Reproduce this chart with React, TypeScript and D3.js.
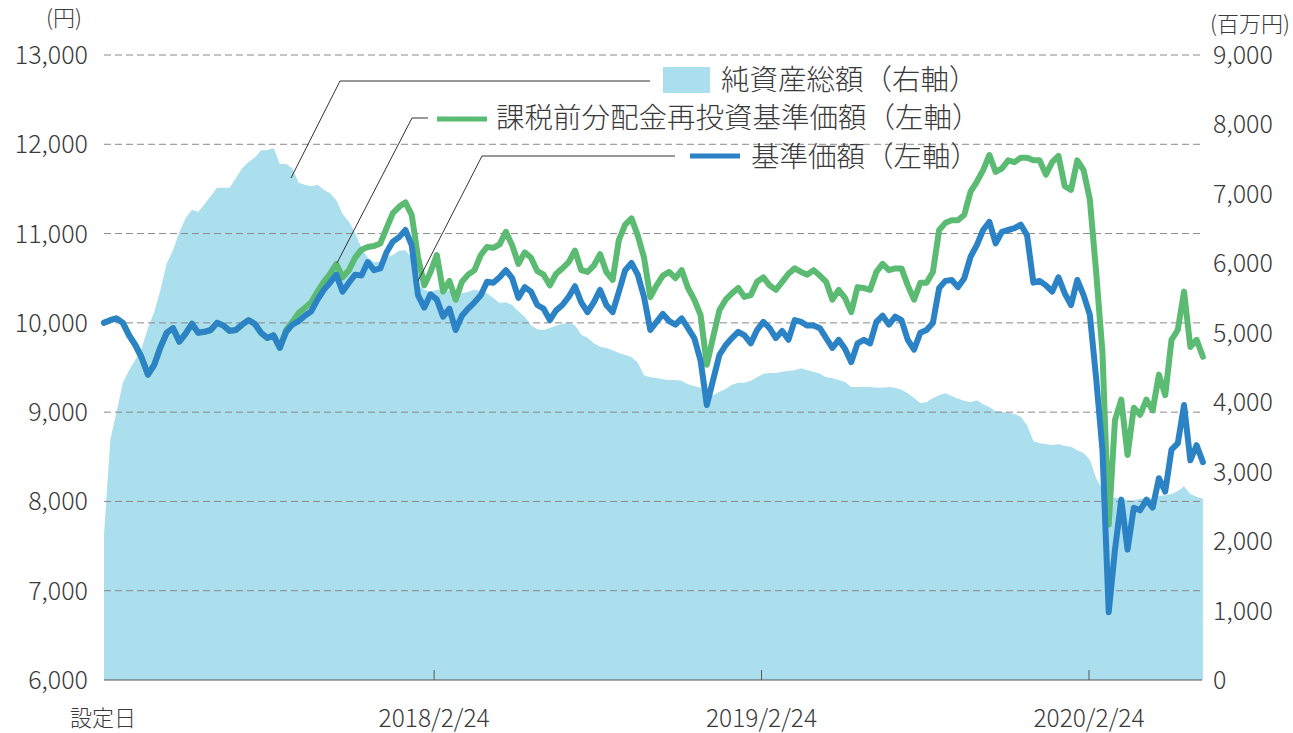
import * as d3 from "d3";

// 週次データ（設定日 2017/2/21 〜 2020/6/29）
const startDate = new Date(2017, 1, 21);
const endDate = new Date(2020, 5, 29);
const dates = d3.range(176).map((i) => d3.timeDay.offset(startDate, i * 7));

// 基準価額（左軸, 円）
const navValues = [
  10000, 10030, 10050, 10000, 9860, 9750, 9610, 9420, 9530, 9730, 9890, 9940, 9790, 9880, 9990, 9890, 9900, 9920, 10000, 9970,
  9910, 9920, 9980, 10030, 9990, 9890, 9830, 9860, 9720, 9900,
  9980, 10020, 10080, 10130, 10260, 10370, 10450, 10540, 10350, 10450, 10540, 10530, 10680, 10590, 10610, 10790, 10910, 10960, 11040, 10870,
  10310, 10170, 10320, 10260, 10070, 10160, 9920, 10080, 10160, 10230, 10310, 10460, 10450, 10510, 10590, 10500, 10280, 10400, 10350, 10200,
  10160, 10030, 10140, 10200, 10290, 10410, 10230, 10120, 10230, 10370, 10200, 10120, 10350, 10590, 10670, 10540, 10290, 9920, 10010, 10100,
  10020, 9980, 10050, 9940, 9830, 9580, 9080, 9360, 9640, 9750, 9830, 9900, 9860, 9770, 9920, 10010, 9940, 9830, 9910, 9810,
  10030, 10010, 9970, 9970, 9940, 9830, 9720, 9810, 9710, 9560, 9770, 9810, 9770, 10010, 10080, 9980, 10070, 10030, 9810, 9700,
  9890, 9920, 10000, 10390, 10470, 10480, 10400, 10500, 10740, 10870, 11040, 11130, 10890, 11020, 11040, 11060, 11100, 10980, 10450, 10470,
  10420, 10350, 10510, 10330, 10200, 10480, 10310, 10090, 9380, 8580, 6760, 7460, 8020, 7460, 7930, 7900, 8020, 7930, 8260, 8110,
  8580, 8650, 9080, 8460, 8630, 8440,
];

// 課税前分配金再投資基準価額（左軸, 円）
const reinvestValues = [
  10000, 10030, 10050, 10000, 9860, 9750, 9610, 9420, 9530, 9730, 9890, 9940, 9790, 9880, 9990, 9890, 9900, 9920, 10000, 9970,
  9910, 9920, 9980, 10030, 9990, 9890, 9830, 9860, 9720, 9920,
  10010, 10110, 10170, 10230, 10350, 10460, 10550, 10660, 10510, 10590, 10730, 10820, 10850, 10860, 10890, 11060, 11230, 11300, 11350, 11210,
  10740, 10420, 10570, 10760, 10350, 10470, 10260, 10460, 10540, 10590, 10760, 10850, 10840, 10880, 11020, 10870, 10660, 10790, 10730, 10580,
  10540, 10420, 10550, 10610, 10680, 10810, 10590, 10570, 10640, 10770, 10570, 10480, 10930, 11100, 11170, 10980, 10730, 10290, 10420, 10530,
  10570, 10500, 10590, 10390, 10260, 10090, 9530, 9840, 10140, 10260, 10330, 10390, 10290, 10310, 10460, 10510, 10420, 10370, 10460, 10550,
  10610, 10570, 10540, 10590, 10530, 10460, 10260, 10370, 10280, 10120, 10400, 10390, 10370, 10570, 10660, 10590, 10610, 10610, 10420, 10260,
  10450, 10450, 10570, 11040, 11120, 11150, 11150, 11210, 11470, 11580, 11710, 11880, 11690, 11730, 11820, 11800, 11850, 11850, 11820, 11820,
  11660, 11800, 11870, 11530, 11490, 11820, 11710, 11380, 10570, 9670, 7740, 8910, 9140, 8520, 9050, 8970, 9140, 9020, 9420, 9190,
  9810, 9920, 10350, 9730, 9810, 9620,
];

// 純資産総額（右軸, 百万円）
const netAssets = [
  2090, 3460, 3860, 4280, 4460, 4610, 4780, 5070, 5300, 5620, 6000, 6190, 6450, 6650, 6770, 6740, 6850, 6970, 7090, 7090,
  7090, 7230, 7370, 7460, 7520, 7630, 7630, 7660, 7430, 7430,
  7370, 7160, 7130, 7110, 7130, 7060, 7010, 6910, 6710, 6600, 6440, 6220, 6080, 6020, 6020, 6080, 6120, 6180, 6190, 6080,
  5690, 5620, 5590, 5620, 5620, 5600, 5570, 5570, 5590, 5620, 5600, 5570, 5500, 5430, 5440, 5400, 5310, 5230, 5110, 5050,
  5040, 5070, 5100, 5130, 5140, 5110, 4970, 4930, 4850, 4800, 4780, 4750, 4710, 4680, 4650, 4570, 4390, 4360, 4350, 4330,
  4320, 4320, 4310, 4260, 4230, 4210, 4150, 4100, 4150, 4190, 4250, 4280, 4280, 4310, 4360, 4410, 4420, 4420, 4440, 4450,
  4460, 4490, 4460, 4440, 4410, 4360, 4350, 4320, 4290, 4220, 4220, 4220, 4220, 4210, 4210, 4220, 4210, 4180, 4130, 4060,
  3990, 4000, 4060, 4100, 4130, 4090, 4050, 4020, 4000, 4030, 3970, 3930, 3870, 3860, 3850, 3830, 3790, 3670, 3440, 3410,
  3400, 3380, 3400, 3370, 3360, 3310, 3270, 3170, 2910, 2740, 2650, 2620, 2610, 2590, 2590, 2610, 2620, 2620, 2650, 2660,
  2680, 2720, 2790, 2680, 2640, 2610,
];

const leftTicks = [6000, 7000, 8000, 9000, 10000, 11000, 12000, 13000];
const rightTicks = [0, 1000, 2000, 3000, 4000, 5000, 6000, 7000, 8000, 9000];
const xTickDates = [new Date(2018, 1, 24), new Date(2019, 1, 24), new Date(2020, 1, 24)];
const xTickLabels = ["2018/2/24", "2019/2/24", "2020/2/24"];

const legendLabels = ["純資産総額（右軸）", "課税前分配金再投資基準価額（左軸）", "基準価額（左軸）"];

const AREA_COLOR = "#acdfee";
const GREEN = "#5cbb72";
const BLUE = "#2b83c6";
const TEXT = "#3a3a3a";
const FONT = "'Noto Sans CJK JP', 'Noto Sans', sans-serif";

export default function App() {
  const width = 1293;
  const height = 733;
  const left = 104, right = 1202, top = 55, bottom = 680;

  const x = d3.scaleTime().domain([startDate, endDate]).range([left, right]);
  const yL = d3.scaleLinear().domain([6000, 13000]).range([bottom, top]);
  const yR = d3.scaleLinear().domain([0, 9000]).range([bottom, top]);

  const areaPath = d3
    .area<number>()
    .x((_, i) => x(dates[i]))
    .y0(yR(0))
    .y1((d) => yR(d))(netAssets);

  const lineL = d3
    .line<number>()
    .x((_, i) => x(dates[i]))
    .y((d) => yL(d));

  const fmt = d3.format(",");

  return (
    <svg
      width={width}
      height={height}
      style={{ position: "absolute", left: 0, top: 0, background: "#fff" }}
      fontFamily={FONT}
      fontWeight={300}
    >
      <path d={areaPath || ""} fill={AREA_COLOR} />

      {/* grid */}
      {leftTicks.slice(1).map((t) => (
        <line key={t} x1={left} x2={right} y1={yL(t)} y2={yL(t)} stroke="#8a8a8a" strokeWidth={1} strokeDasharray="7,4" />
      ))}

      {/* baseline + ticks */}
      <line x1={left} x2={right} y1={bottom} y2={bottom} stroke="#555" strokeWidth={1.2} />
      {xTickDates.map((d, i) => (
        <line key={i} x1={x(d)} x2={x(d)} y1={bottom} y2={bottom - 10} stroke="#555" strokeWidth={1} />
      ))}

      <path d={lineL(reinvestValues) || ""} fill="none" stroke={GREEN} strokeWidth={6} strokeLinejoin="round" strokeLinecap="round" />
      <path d={lineL(navValues) || ""} fill="none" stroke={BLUE} strokeWidth={6} strokeLinejoin="round" strokeLinecap="round" />

      {/* left axis */}
      {leftTicks.map((t) => (
        <text key={t} x={88} y={yL(t)} dy="0.36em" textAnchor="end" fontSize={25} fill={TEXT}>
          {fmt(t)}
        </text>
      ))}
      <text x={64} y={18} dy="0.36em" textAnchor="middle" fontSize={22} fill={TEXT}>(円)</text>

      {/* right axis */}
      {rightTicks.map((t) => (
        <text key={t} x={1213} y={yR(t)} dy="0.36em" textAnchor="start" fontSize={25} fill={TEXT}>
          {fmt(t)}
        </text>
      ))}
      <text x={1250} y={24} dy="0.36em" textAnchor="middle" fontSize={22} fill={TEXT}>(百万円)</text>

      {/* x labels */}
      <text x={103} y={726} textAnchor="middle" fontSize={22} fill={TEXT}>設定日</text>
      {xTickDates.map((d, i) => (
        <text key={i} x={x(d)} y={727} textAnchor="middle" fontSize={24.5} fill={TEXT}>
          {xTickLabels[i]}
        </text>
      ))}

      {/* legend */}
      <rect x={663} y={67} width={47} height={26} fill={AREA_COLOR} />
      <line x1={437} x2={487} y1={119} y2={119} stroke={GREEN} strokeWidth={5} />
      <line x1={690} x2={740} y1={156} y2={156} stroke={BLUE} strokeWidth={5} />
      <text x={721} y={80} dy="0.36em" textAnchor="start" fontSize={28.5} fill={TEXT}>{legendLabels[0]}</text>
      <text x={496} y={118} dy="0.36em" textAnchor="start" fontSize={28.5} fill={TEXT}>{legendLabels[1]}</text>
      <text x={751} y={157} dy="0.36em" textAnchor="start" fontSize={28.5} fill={TEXT}>{legendLabels[2]}</text>

      {/* callouts */}
      <polyline points="650,81 340,81 291,178" fill="none" stroke="#333" strokeWidth={1} />
      <polyline points="428,118 412,118 337,263" fill="none" stroke="#333" strokeWidth={1} />
      <polyline points="675,156 482,156 418,281" fill="none" stroke="#333" strokeWidth={1} />
    </svg>
  );
}
